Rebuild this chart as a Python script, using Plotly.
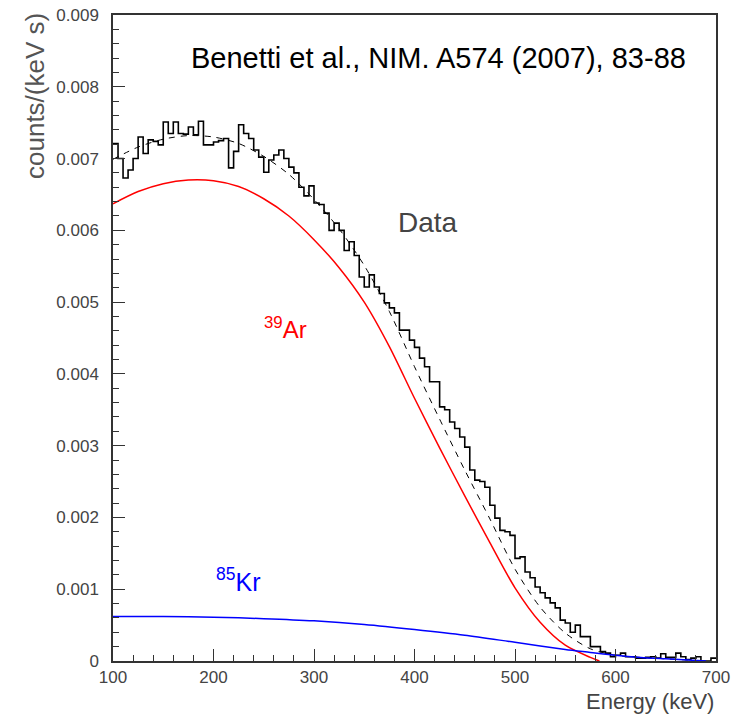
import plotly.graph_objects as go

# ---- histogram (5 keV bins, left edges) ----
bin_left = list(range(100, 700, 5))
hist_vals = [
    7.21, 7.00, 6.73, 6.84, 7.00, 7.30, 7.07, 7.26, 7.24, 7.19,   # 100-145
    7.51, 7.35, 7.51, 7.35, 7.34, 7.44, 7.33, 7.52, 7.19, 7.19,   # 150-195
    7.23, 7.25, 7.28, 6.87, 7.10, 7.47, 7.35, 7.28, 7.12, 7.02,   # 200-245
    6.81, 6.98, 7.05, 7.12, 7.00, 6.88, 6.80, 6.60, 6.48, 6.62,   # 250-295
    6.38, 6.36, 6.24, 6.00, 6.10, 6.00, 5.72, 5.84, 5.65, 5.35,   # 300-345
    5.21, 5.38, 5.21, 5.12, 4.99, 4.92, 4.85, 4.61, 4.61, 4.47,   # 350-395
    4.37, 4.22, 4.10, 3.89, 3.89, 3.54, 3.50, 3.33, 3.24, 3.12,   # 400-445
    2.98, 2.66, 2.52, 2.50, 2.42, 2.17, 1.99, 1.82, 1.80, 1.75,   # 450-495
    1.43, 1.45, 1.24, 1.16, 1.03, 0.95, 0.88, 0.81, 0.74, 0.57,   # 500-545
    0.53, 0.40, 0.50, 0.34, 0.34, 0.20, 0.20, 0.13, 0.11, 0.06,   # 550-595
    0.08, 0.11, 0.06, 0.06, 0.04, 0.04, 0.05, 0.06, 0.04, 0.10,   # 600-645
    0.05, 0.05, 0.11, 0.06, 0.02, 0.04, 0.06, 0.00, 0.00, 0.04,   # 650-695
]
bin_width = 5

# ---- fitted components (x 1e-3 counts/(keV s)) ----
ar_E = [100, 125, 150, 175, 200, 225, 250, 275, 300, 325, 350, 375, 400, 425, 450, 475, 500, 525, 550, 575, 584]
ar_v = [6.37, 6.54, 6.65, 6.70, 6.69, 6.61, 6.44, 6.20, 5.87, 5.48, 5.00, 4.38, 3.66, 2.97, 2.30, 1.65, 1.02, 0.54, 0.22, 0.05, 0.0]

kr_E = [100, 150, 200, 250, 300, 350, 400, 450, 500, 550, 575, 600, 625, 650, 690]
kr_v = [0.62, 0.62, 0.61, 0.59, 0.56, 0.51, 0.44, 0.36, 0.26, 0.16, 0.12, 0.08, 0.05, 0.03, 0.0]

fit_E = [100, 125, 150, 175, 200, 225, 250, 275, 300, 325, 350, 375, 400, 425, 450, 475, 500, 525, 550, 575, 600, 625, 650, 690]
fit_v = [6.99, 7.16, 7.27, 7.32, 7.30, 7.21, 7.03, 6.78, 6.43, 6.02, 5.51, 4.87, 4.10, 3.37, 2.66, 1.98, 1.28, 0.75, 0.39, 0.17, 0.08, 0.05, 0.03, 0.0]

scale = 1e-3
x_ticks = [100, 200, 300, 400, 500, 600, 700]

FONT = "Liberation Sans"
AXCOL = "#333333"
TXTCOL = "#444444"

fig = go.Figure()

hx = bin_left + [bin_left[-1] + bin_width]
hy = [v * scale for v in hist_vals] + [hist_vals[-1] * scale]
fig.add_trace(go.Scatter(x=hx, y=hy, mode="lines", line=dict(color="black", width=1.6, shape="hv"),
                         showlegend=False, hoverinfo="skip"))
fig.add_trace(go.Scatter(x=fit_E, y=[v * scale for v in fit_v], mode="lines",
                         line=dict(color="black", width=1, dash="6px,6px", shape="spline", smoothing=0.8),
                         showlegend=False, hoverinfo="skip"))
fig.add_trace(go.Scatter(x=ar_E, y=[v * scale for v in ar_v], mode="lines",
                         line=dict(color="#ff0000", width=1.5, shape="spline", smoothing=0.8),
                         showlegend=False, hoverinfo="skip"))
fig.add_trace(go.Scatter(x=kr_E, y=[v * scale for v in kr_v], mode="lines",
                         line=dict(color="#0000ff", width=1.5, shape="spline", smoothing=0.8),
                         showlegend=False, hoverinfo="skip"))

fig.update_xaxes(range=[100, 700], tickvals=x_ticks, ticks="inside", ticklen=12, tickwidth=1.2,
                 tickcolor=AXCOL, showline=True, linecolor=AXCOL, linewidth=1.5, mirror=True,
                 showgrid=False, zeroline=False, automargin=False, ticklabeloverflow="allow",
                 tickfont=dict(family=FONT, size=17, color=TXTCOL),
                 minor=dict(ticks="inside", ticklen=6, dtick=20, tick0=100, tickcolor=AXCOL, showgrid=False))
fig.update_yaxes(range=[0, 0.009], dtick=0.001, tick0=0, ticks="inside", ticklen=12, tickwidth=1.2,
                 tickcolor=AXCOL, showline=True, linecolor=AXCOL, linewidth=1.5, mirror=True,
                 showgrid=False, zeroline=False, tickformat="~g", automargin=False,
                 ticklabeloverflow="allow", ticklabelstandoff=9,
                 tickfont=dict(family=FONT, size=17, color=TXTCOL),
                 minor=dict(ticks="inside", ticklen=6, dtick=0.0002, tick0=0, tickcolor=AXCOL, showgrid=False))

anns = [
    dict(x=424, y=0.0084, text="Benetti et al., NIM. A574 (2007), 83-88", font=dict(family=FONT, size=29, color="black"),
         xref="x", yref="y", showarrow=False),
    dict(x=413, y=0.00611, text="Data", font=dict(family=FONT, size=28, color=TXTCOL),
         xref="x", yref="y", showarrow=False),
    dict(x=272, y=0.00464, text="<sup>39</sup>Ar", font=dict(family=FONT, size=24, color="#ff0000"),
         xref="x", yref="y", showarrow=False),
    dict(x=224, y=0.00113, text="<sup>85</sup>Kr", font=dict(family=FONT, size=25, color="#0000ff"),
         xref="x", yref="y", showarrow=False),
    dict(x=1, y=0, xref="paper", yref="paper", xanchor="right", yanchor="middle", yshift=-40,
         text="Energy (keV)", font=dict(family=FONT, size=22, color=TXTCOL), showarrow=False),
    dict(x=0, y=1, xref="paper", yref="paper", xanchor="center", yanchor="top", xshift=-78, yshift=4,
         textangle=-90, text="counts/(keV s)", font=dict(family=FONT, size=26, color="#555555"), showarrow=False),
]
fig.update_layout(width=739, height=707, autosize=False, margin=dict(l=105, r=31, t=7, b=54),
                  plot_bgcolor="white", paper_bgcolor="white", annotations=anns)

fig.write_html("out.html")
